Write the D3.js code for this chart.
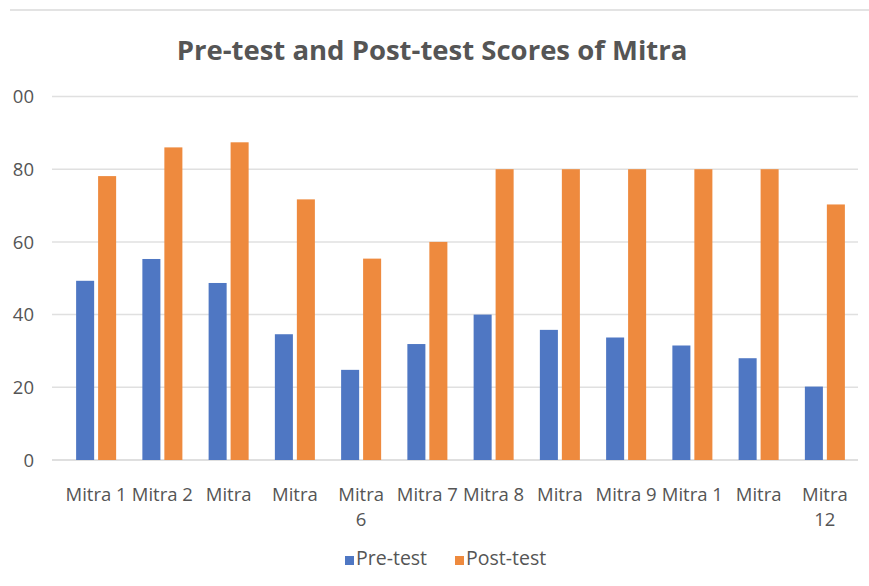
<!DOCTYPE html>
<html>
<head>
<meta charset="utf-8">
<script src="https://cdn.jsdelivr.net/npm/d3@7"></script>
<style>
  body { margin: 0; background: #fff; }
  svg { display: block; font-family: "Open Sans", "DejaVu Sans", sans-serif; }
</style>
</head>
<body>
<div class="chart"></div>
<script>
// labels as they appear on the picture (some are cut / wrapped)
const labels = ["Mitra 1", "Mitra 2", "Mitra", "Mitra", "Mitra\n6", "Mitra 7",
                "Mitra 8", "Mitra", "Mitra 9", "Mitra 1", "Mitra", "Mitra\n12"];
const series = ["Pre-test", "Post-test"];
const preTest = [49.3, 55.3, 48.7, 34.6, 24.8, 31.9, 40, 35.8, 33.7, 31.5, 28, 20.2];
const postTest = [78.1, 86, 87.4, 71.7, 55.4, 60, 80, 80, 80, 80, 80, 70.3];
const yTicks = [0, 20, 40, 60, 80, 100];
const colors = ["#4f77c3", "#ee8a3e"];

const width = 869;
const height = 586;

const svg = d3.select(".chart")
    .append("svg")
    .attr("width", width)
    .attr("height", height)
    .attr("viewBox", [0, 0, width, height]);

// frame line at top
svg.append("line")
    .attr("x1", 10).attr("x2", width)
    .attr("y1", 10).attr("y2", 10)
    .attr("stroke", "#e3e3e3")
    .attr("stroke-width", 2);

svg.append("text")
    .attr("x", 432)
    .attr("y", 60)
    .attr("text-anchor", "middle")
    .attr("font-size", 27.5)
    .attr("font-weight", "bold")
    .attr("fill", "#555")
    .text("Pre-test and Post-test Scores of Mitra");

const y = d3.scaleLinear()
    .domain([0, 100])
    .range([460, 96.5]);

const x0 = d3.scaleBand()
    .domain(labels.map((d, i) => i))
    .range([63, 858])
    .paddingInner(0.396)
    .paddingOuter(0.198);

const x1 = d3.scaleBand()
    .domain(series)
    .range([0, x0.bandwidth()])
    .paddingInner(0.18);

// grid
svg.append("g")
    .selectAll("line")
    .data(yTicks)
    .join("line")
    .attr("x1", 52).attr("x2", 858)
    .attr("y1", d => y(d)).attr("y2", d => y(d))
    .attr("stroke", d => d === 0 ? "#d4d4d4" : "#e0e0e0")
    .attr("stroke-width", 1.5);

// y labels, left edge of picture is cut
svg.append("clipPath")
    .attr("id", "leftcut")
    .append("rect")
    .attr("x", 11).attr("y", 0)
    .attr("width", width).attr("height", height);

svg.append("g")
    .attr("clip-path", "url(#leftcut)")
    .selectAll("text")
    .data(yTicks)
    .join("text")
    .attr("x", 34)
    .attr("y", d => y(d))
    .attr("dy", "0.36em")
    .attr("text-anchor", "end")
    .attr("font-size", 18.5)
    .attr("fill", "#555")
    .text(d => d);

// bars
const rows = labels.map((d, i) => ({i: i, values: [preTest[i], postTest[i]]}));

const group = svg.append("g")
    .selectAll("g")
    .data(rows)
    .join("g")
    .attr("transform", d => `translate(${x0(d.i)},0)`);

group.selectAll("rect")
    .data(d => d.values.map((v, k) => ({key: series[k], value: v, k: k})))
    .join("rect")
    .attr("x", d => x1(d.key))
    .attr("width", x1.bandwidth())
    .attr("y", d => y(d.value))
    .attr("height", d => y(0) - y(d.value))
    .attr("fill", d => colors[d.k]);

// x labels
const xLabel = svg.append("g")
    .selectAll("text")
    .data(labels)
    .join("text")
    .attr("x", (d, i) => x0(i) + x0.bandwidth() / 2)
    .attr("y", 501)
    .attr("text-anchor", "middle")
    .attr("font-size", 18.5)
    .attr("fill", "#555");

xLabel.selectAll("tspan")
    .data(d => d.split("\n"))
    .join("tspan")
    .attr("x", function() { return this.parentNode.getAttribute("x"); })
    .attr("dy", (d, i) => i === 0 ? 0 : 25)
    .text(d => d);

// legend
const legendX = [345, 455];
const legend = svg.append("g")
    .selectAll("g")
    .data(series)
    .join("g")
    .attr("transform", (d, i) => `translate(${legendX[i]},565)`);

legend.append("rect")
    .attr("x", 0).attr("y", -9)
    .attr("width", 9).attr("height", 9)
    .attr("fill", (d, i) => colors[i]);

legend.append("text")
    .attr("x", 11)
    .attr("y", 0)
    .attr("font-size", 19.5)
    .attr("fill", "#555")
    .text(d => d);
</script>
</body>
</html>
